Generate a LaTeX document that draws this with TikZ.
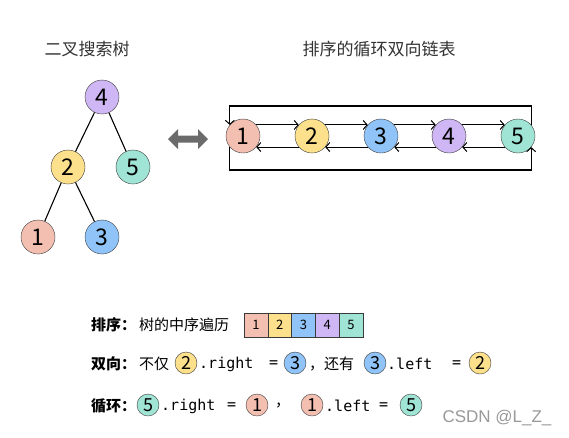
\documentclass[tikz,border=0pt]{standalone}
\usepackage{fontspec}
\usetikzlibrary{arrows.meta}
\setmainfont{Noto Sans CJK SC}
\setmonofont{DejaVu Sans Mono}
\newfontfamily\wmfont{Liberation Sans}
\definecolor{cone}{HTML}{F3BFB1}
\definecolor{ctwo}{HTML}{FDE08B}
\definecolor{cthree}{HTML}{90C4F8}
\definecolor{cfour}{HTML}{CFB6F4}
\definecolor{cfive}{HTML}{A0E4D6}
\definecolor{rim}{HTML}{3A3A3A}
\begin{document}
\begin{tikzpicture}[
      x=1pt,y=-1pt,
      >={Straight Barb[length=4pt,width=9pt,line width=1pt]},
      big/.style={
        draw=rim,circle,minimum size=34pt,inner sep=0pt,font=\fontsize{23}{23}\selectfont
      },
      small/.style={
        draw=rim,circle,minimum size=22pt,inner sep=0pt,font=\fontsize{18}{18}\selectfont
      },
      cell/.style={
        draw=rim,minimum width=23.8pt,minimum height=24pt,inner sep=0pt,font=\fontsize{13}{13}\selectfont
      },
      title/.style={text=black!80,font=\fontsize{17}{17}\selectfont},
      txt/.style={anchor=west,inner sep=0pt,font=\fontsize{15}{15}\selectfont},
      bold/.style={txt,font=\fontsize{15}{15}\selectfont\bfseries},
      code/.style={anchor=west,inner sep=0pt,font=\fontsize{15}{15}\selectfont\ttfamily},
    ]
    \useasboundingbox (0,0) rectangle (569,437);
    % titles
    \node[title] (tt) at (87,49) {二叉搜索树};
    \node[title] (lt) at (379,49) {排序的循环双向链表};
    % tree
    \node[big,fill=cfour] (t4) at (102,97) {4};
    \node[big,fill=ctwo] (t2) at (68,167) {2};
    \node[big,fill=cfive] (t5) at (133,167) {5};
    \node[big,fill=cone] (t1) at (38,237) {1};
    \node[big,fill=cthree] (t3) at (102,237) {3};
    \draw[line width=1.1pt] (t4) -- (t2);
    \draw[line width=1.1pt] (t4) -- (t5);
    \draw[line width=1.1pt] (t2) -- (t1);
    \draw[line width=1.1pt] (t2) -- (t3);
    % double arrow
    \fill[black!58] (168,139) -- (178,129) -- (178,135.5) -- (198,135.5) -- (198,129)
      -- (208,139) -- (198,149) -- (198,142.5) -- (178,142.5) -- (178,149) -- cycle;
    % list
    \node[big,fill=cone] (l1) at (243,136) {1};
    \node[big,fill=ctwo] (l2) at (312,136) {2};
    \node[big,fill=cthree] (l3) at (381,136) {3};
    \node[big,fill=cfour] (l4) at (449,136) {4};
    \node[big,fill=cfive] (l5) at (518,136) {5};
    \draw[line width=1.1pt,->] (l1.40) -- (l2.140);
    \draw[line width=1.1pt,->] (l2.40) -- (l3.140);
    \draw[line width=1.1pt,->] (l3.40) -- (l4.140);
    \draw[line width=1.1pt,->] (l4.40) -- (l5.140);
    \draw[line width=1.1pt,->] (l2.220) -- (l1.-40);
    \draw[line width=1.1pt,->] (l3.220) -- (l2.-40);
    \draw[line width=1.1pt,->] (l4.220) -- (l3.-40);
    \draw[line width=1.1pt,->] (l5.220) -- (l4.-40);
    \coordinate (top) at (380,106);
    \coordinate (bot) at (380,170);
    \draw[line width=1.1pt,->] (l5.40) -- (l5.40 |- top) -| (l1.140);
    \draw[line width=1.1pt,->] (l1.220) -- (l1.220 |- bot) -| (l5.-40);
    % line 1
    \node[bold] (k1) at (91,325) {排序：};
    \node[txt] (d1) at (139,325) {树的中序遍历};
    \node[cell,fill=cone] (a1) at (255.9,325) {1};
    \node[cell,fill=ctwo] (a2) at (279.7,325) {2};
    \node[cell,fill=cthree] (a3) at (303.5,325) {3};
    \node[cell,fill=cfour] (a4) at (327.3,325) {4};
    \node[cell,fill=cfive] (a5) at (351.1,325) {5};
    % line 2
    \node[bold] (k2) at (91,364) {双向：};
    \node[txt] (d2) at (139,364) {不仅};
    \node[small,fill=ctwo] (b2) at (186,363) {2};
    \node[code] (r2) at (199,364) {.right};
    \node[code] (e2) at (269,364) {=};
    \node[small,fill=cthree] (b3) at (295,363) {3};
    \node[txt] (h2) at (309,364) {，还有};
    \node[small,fill=cthree] (c3) at (375,363) {3};
    \node[code] (f2) at (387,364) {.left};
    \node[code] (g2) at (452,364) {=};
    \node[small,fill=ctwo] (c2) at (480,363) {2};
    % line 3
    \node[bold] (k3) at (91,406) {循环：};
    \node[small,fill=cfive] (b5) at (148,405) {5};
    \node[code] (r3) at (161,406) {.right};
    \node[code] (e3) at (227,406) {=};
    \node[small,fill=cone] (b1) at (257,405) {1};
    \node[txt] (h3) at (275,406) {，};
    \node[small,fill=cone] (c1) at (312,405) {1};
    \node[code] (f3) at (325,406) {.left};
    \node[code] (g3) at (379,406) {=};
    \node[small,fill=cfive] (c5) at (411,405) {5};
    % watermark
    \node[text=black!40,font=\wmfont\fontsize{17}{17}\selectfont] (wm) at (497,418) {CSDN @L\_Z\_};
  \end{tikzpicture}
\end{document}
